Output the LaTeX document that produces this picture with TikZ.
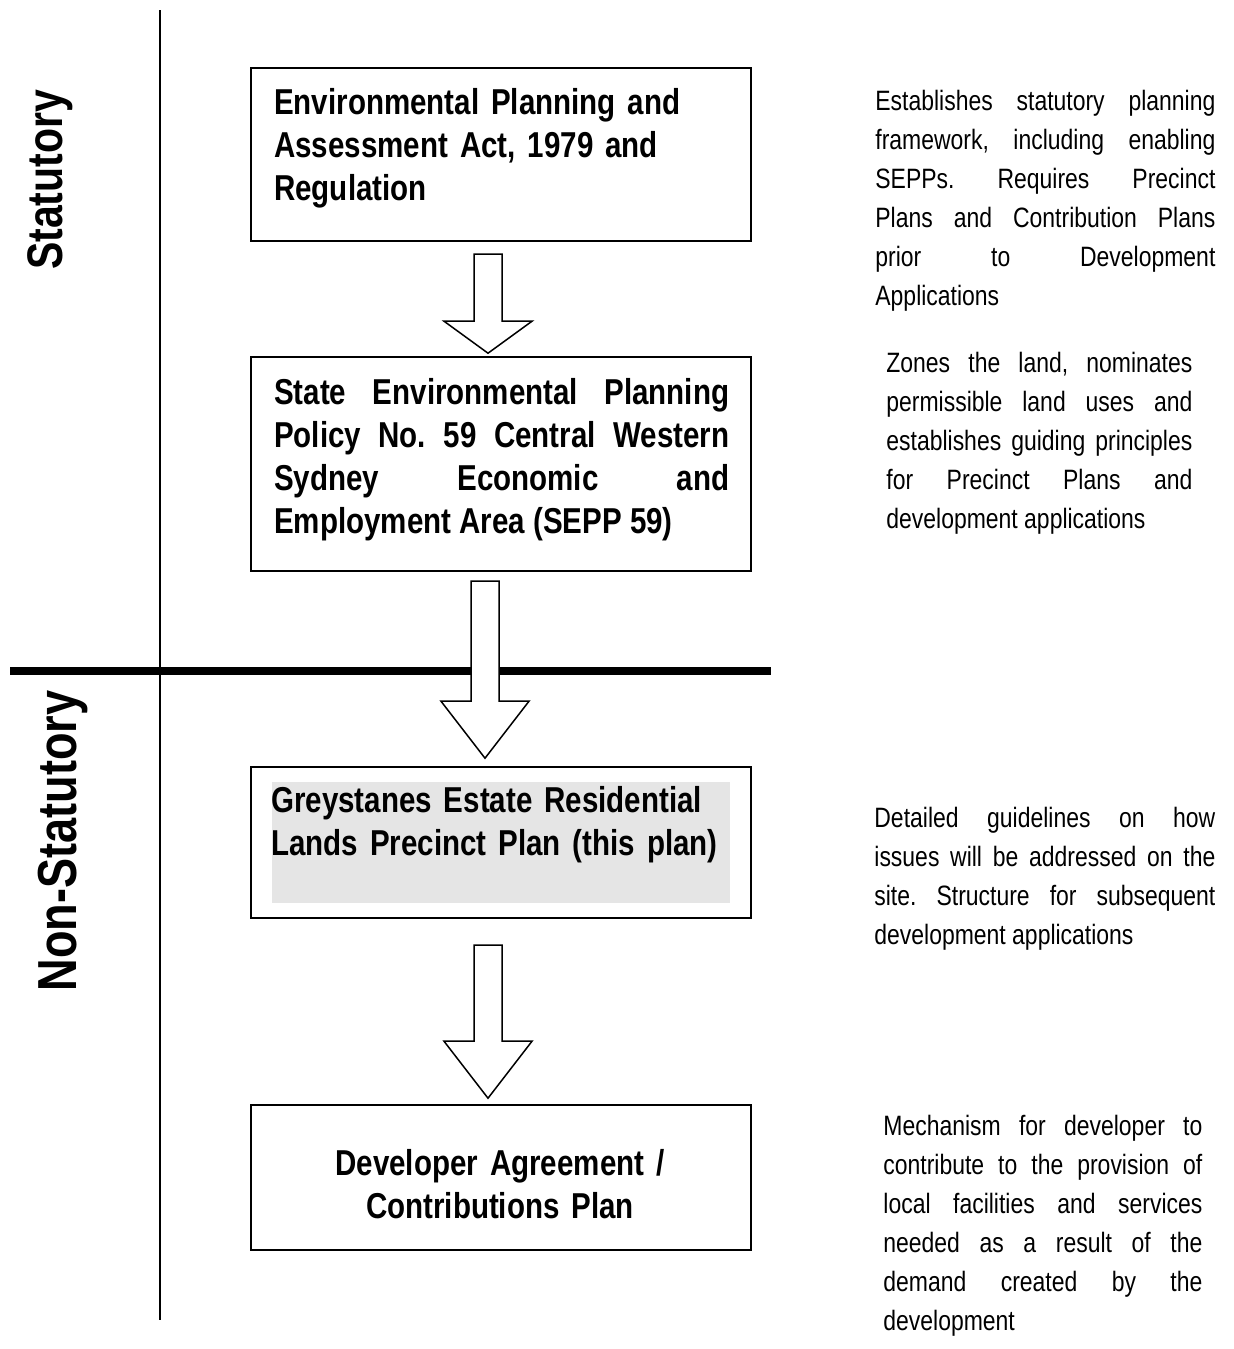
\documentclass[tikz,border=0pt]{standalone}
\usepackage{fontspec}
\setmainfont{Liberation Sans}[FakeStretch=0.82]
\usetikzlibrary{calc}
\tolerance=10000
\hbadness=10000
\frenchspacing

% hollow block arrow: top point, shaft length, head length
\newcommand{\blockarrow}[3]{%
  \draw[hollow] ($(#1)+(-14,0)$) -- ($(#1)+(-14,#2)$) -- ($(#1)+(-44,#2)$)
    -- ($(#1)+(0,#2+#3)$) -- ($(#1)+(44,#2)$) -- ($(#1)+(14,#2)$)
    -- ($(#1)+(14,0)$) -- cycle;}

\begin{document}
\begin{tikzpicture}[x=0.5pt,y=-0.5pt,
  frame/.style={draw,line width=1.2pt,minimum width=250pt,inner sep=0pt},
  boxtext/.style={anchor=north west,inner sep=0pt,text width=227.5pt,
    font=\bfseries\fontsize{18}{21.5}\selectfont},
  note/.style={anchor=north west,inner sep=0pt,align=justify,
    font=\fontsize{14}{19.5}\selectfont},
  hollow/.style={draw,line width=0.75pt,fill=white},
  side/.style={rotate=90,inner sep=0pt,font=\bfseries\fontsize{25}{30}\selectfont}]
\useasboundingbox (0,0) rectangle (1234,1349);

% dividers
\draw[line width=1pt] (160,10) -- (160,1320);
\draw[line width=3.8pt] (10,671) -- (771,671);
\node[side] (stat) at (50,180) {Statutory};
\node[side,font=\bfseries\fontsize{27.5}{32}\selectfont] (nonstat) at (63,841) {Non-Statutory};

% boxes
\node[frame,minimum height=86.5pt] (actbox) at (501,154.5) {};
\node[frame,minimum height=107pt] (seppbox) at (501,464) {};
\node[frame,minimum height=75.5pt] (planbox) at (501,842.5) {};
\node[fill=gray!20,minimum width=229pt,minimum height=60.5pt,inner sep=0pt] (planshade) at (501,842.5) {};
\node[frame,minimum height=72.5pt] (devbox) at (501,1177.5) {};

\node[boxtext,align=left] (actlabel) at ($(actbox.north west)+(24,21)$)
  {Environmental Planning and\\Assessment Act, 1979 and\\Regulation};
\node[boxtext,align=justify] (sepplabel) at ($(seppbox.north west)+(24,22)$)
  {State Environmental Planning\linebreak Policy No. 59 Central Western\linebreak
   Sydney Economic and\linebreak Employment Area (SEPP 59)};
\node[boxtext,align=left] (planlabel) at ($(planbox.north west)+(21,20)$)
  {Greystanes Estate Residential\\Lands Precinct Plan (this plan)};
\node[boxtext,align=center,anchor=north] (devlabel) at ($(devbox.north)+(-1,45)$)
  {Developer Agreement /\\Contributions Plan};

% arrows
\coordinate (a1) at ($(actbox.south)+(-13,12)$);
\coordinate (a2) at ($(seppbox.south)+(-16,9)$);
\coordinate (a3) at ($(planbox.south)+(-13,26)$);
\blockarrow{a1}{67}{32}
\blockarrow{a2}{120}{57}
\blockarrow{a3}{96}{57}

% notes
\node[note,text width=170pt] (actnote) at (875,90)
  {Establishes statutory planning\linebreak framework, including enabling\linebreak
   SEPPs. Requires Precinct\linebreak Plans and Contribution Plans\linebreak
   prior to Development\linebreak Applications};
\node[note,text width=153pt] (seppnote) at (886,352)
  {Zones the land, nominates\linebreak permissible land uses and\linebreak
   establishes guiding principles\linebreak for Precinct Plans and\linebreak
   development applications};
\node[note,text width=170.5pt] (plannote) at (874,807)
  {Detailed guidelines on how\linebreak issues will be addressed on the\linebreak
   site. Structure for subsequent\linebreak development applications};
\node[note,text width=159.5pt] (devnote) at (883,1115)
  {Mechanism for developer to\linebreak contribute to the provision of\linebreak
   local facilities and services\linebreak needed as a result of the\linebreak
   demand created by the\linebreak development};
\end{tikzpicture}
\end{document}
